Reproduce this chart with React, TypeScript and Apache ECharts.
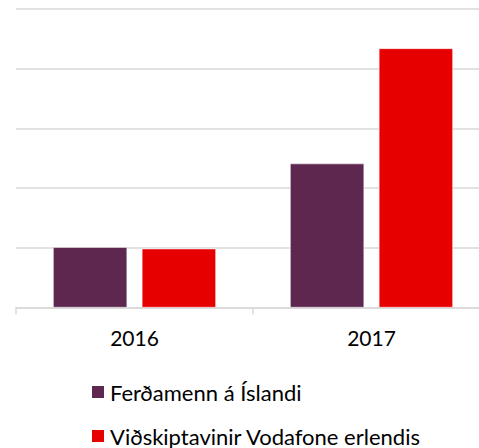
import React, { useEffect, useRef } from "react";
import * as echarts from "echarts";

const categories = ["2016", "2017"];
const seriesNames = ["Ferðamenn á Íslandi", "Viðskiptavinir Vodafone erlendis"];
const touristValues = [1.01, 2.41];
const vodafoneValues = [0.985, 4.34];
const colors = ["#5e2750", "#e60000"];

export default function App() {
  const ref = useRef<HTMLDivElement>(null);
  useEffect(() => {
    const chart = echarts.init(ref.current!, null, { renderer: "svg" });
    const font = "Lato, 'Noto Sans', sans-serif";
    const legendBase = {
      orient: "vertical",
      left: 90,
      padding: 0,
      itemWidth: 14,
      itemHeight: 14,
      icon: "rect",
      textStyle: { fontFamily: font, fontSize: 22, lineHeight: 18, color: "#000" },
    };
    chart.setOption({
      animation: false,
      grid: { left: 16, right: 0, top: 9, bottom: 140.5, containLabel: false },
      legend: [
        { ...legendBase, top: 381, data: [seriesNames[0]] },
        { ...legendBase, top: 425, data: [seriesNames[1]] },
      ],
      xAxis: {
        type: "category",
        data: categories,
        axisLine: { lineStyle: { color: "#d9d9d9", width: 1.5 } },
        axisTick: { show: true, length: 7, lineStyle: { color: "#d9d9d9", width: 1.5 } },
        axisLabel: { fontFamily: font, fontSize: 21, color: "#000", margin: 19 },
      },
      yAxis: {
        type: "value",
        min: 0,
        max: 5,
        interval: 1,
        axisLabel: { show: false },
        axisLine: { show: false },
        axisTick: { show: false },
        splitLine: { lineStyle: { color: "#d9d9d9", width: 1.5 } },
      },
      series: [
        {
          name: seriesNames[0],
          type: "bar",
          data: touristValues,
          barWidth: 74,
          barGap: "20%",
          itemStyle: { color: colors[0], borderColor: "#fff", borderWidth: 0.5 },
        },
        {
          name: seriesNames[1],
          type: "bar",
          data: vodafoneValues,
          barWidth: 74,
          barGap: "20%",
          itemStyle: { color: colors[1], borderColor: "#fff", borderWidth: 0.5 },
        },
      ],
    });
    return () => chart.dispose();
  }, []);
  return (
    <div style={{ width: 479, height: 448, position: "absolute", left: 0, top: 0, overflow: "hidden" }}>
      <div ref={ref} style={{ width: 490, height: 448 }} />
    </div>
  );
}
